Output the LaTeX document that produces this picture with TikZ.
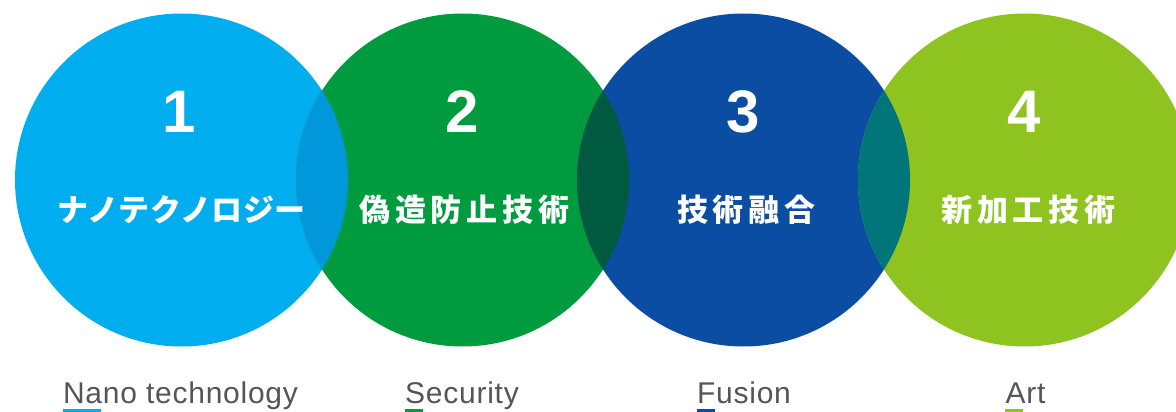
\documentclass[tikz,border=0pt]{standalone}
\usepackage{fontspec}
\usetikzlibrary{calc}
\setmainfont{Liberation Sans}
\newfontfamily\jpkana[LetterSpace=2]{Noto Sans CJK JP}
\newfontfamily\jpkanji[LetterSpace=16]{Noto Sans CJK JP}
\newfontfamily\labfont[LetterSpace=2.5]{Liberation Sans}
\definecolor{cA}{HTML}{00AEEF}
\definecolor{cB}{HTML}{009B3E}
\definecolor{cC}{HTML}{0B4DA2}
\definecolor{cD}{HTML}{8FC31F}
\definecolor{oAB}{HTML}{0098DA}
\definecolor{oBC}{HTML}{005A3F}
\definecolor{oCD}{HTML}{00757A}
\definecolor{labgray}{HTML}{555555}
\begin{document}
\begin{tikzpicture}[x=1pt,y=-1pt,
  bubble/.style={circle, minimum size=333pt, inner sep=0pt, draw=none},
  num/.style={text=white, inner sep=0pt, font=\bfseries\fontsize{60}{60}\selectfont},
  kana/.style={text=white, inner sep=0pt, font=\jpkana\bfseries\fontsize{31}{31}\selectfont},
  kanji/.style={text=white, inner sep=0pt, font=\jpkanji\bfseries\fontsize{31}{31}\selectfont},
  lab/.style={text=labgray, inner sep=0pt, anchor=base, font=\labfont\fontsize{30}{30}\selectfont}
]
\useasboundingbox (0,0) rectangle (1176,412);
\clip (0,0) rectangle (1176,412);
\node[bubble, fill=cA] (c1) at (181.5,180) {};
\node[bubble, fill=cB] (c2) at (462.5,180) {};
\node[bubble, fill=cC] (c3) at (743.5,180) {};
\node[bubble, fill=cD] (c4) at (1024.5,180) {};
\begin{scope}
  \clip (c1.center) circle (166.5);
  \fill[oAB] (c2.center) circle (166.5);
\end{scope}
\begin{scope}
  \clip (c2.center) circle (166.5);
  \fill[oBC] (c3.center) circle (166.5);
\end{scope}
\begin{scope}
  \clip (c3.center) circle (166.5);
  \fill[oCD] (c4.center) circle (166.5);
\end{scope}
\node[num] (n1) at (179.5,111.5) {1};
\node[num] (n2) at (462.5,111.5) {2};
\node[num] (n3) at (743.5,111.5) {3};
\node[num] (n4) at (1024.5,111.5) {4};
\node[kana] (j1) at (181.5,210) {ナノテクノロジー};
\node[kanji] (j2) at (464.5,210) {偽造防止技術};
\node[kanji] (j3) at (746.5,210) {技術融合};
\node[kanji] (j4) at (1028.5,210) {新加工技術};
\node[lab] (l1) at (180.5,403) {Nano technology};
\node[lab] (l2) at (462,403) {Security};
\node[lab] (l3) at (744,403) {Fusion};
\node[lab] (l4) at (1025.5,403) {Art};
\fill[cA] ($(l1.base west)+(0,6)$) rectangle ++(38,3);
\fill[cB] ($(l2.base west)+(0,6)$) rectangle ++(18,3);
\fill[cC] ($(l3.base west)+(0,6)$) rectangle ++(18,3);
\fill[cD] ($(l4.base west)+(0,6)$) rectangle ++(18,3);
\end{tikzpicture}
\end{document}
